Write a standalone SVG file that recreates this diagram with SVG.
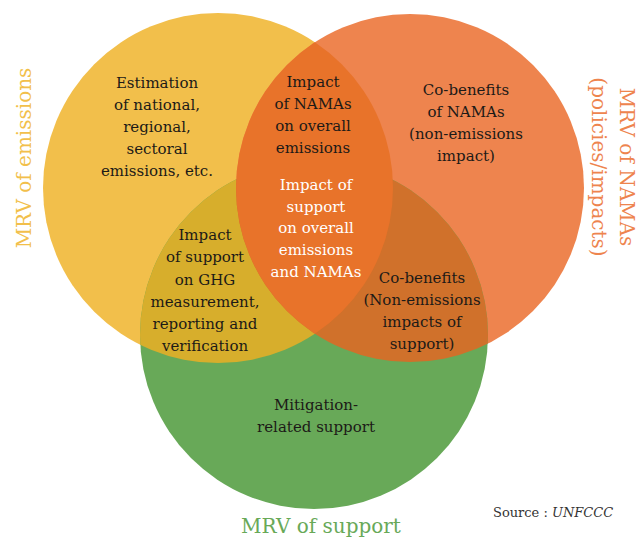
<svg xmlns="http://www.w3.org/2000/svg" width="640" height="539" viewBox="0 0 640 539">
  <style>
    .lbl { font-family: "DejaVu Serif", "Liberation Serif", serif; font-size: 15px; fill: #1c1a17; text-anchor: middle; }
    .lbl.w { fill: #ffffff; }
    .big { font-family: "DejaVu Serif", "Liberation Serif", serif; font-size: 20px; text-anchor: middle; }
    .src { font-family: "DejaVu Serif", "Liberation Serif", serif; font-size: 13px; fill: #333333; }
  </style>
  <defs>
    <circle id="cY" cx="218" cy="188" r="175"/>
    <circle id="cO" cx="410" cy="188" r="174"/>
    <circle id="cG" cx="314" cy="335" r="174"/>
    <clipPath id="clipY"><use href="#cY"/></clipPath>
    <clipPath id="clipO"><use href="#cO"/></clipPath>
  </defs>

  <rect width="640" height="539" fill="#ffffff"/>

  <!-- base circles -->
  <g id="emissions"><use href="#cY" fill="#F2BF4B"/></g>
  <g id="namas"><use href="#cO" fill="#EE844E"/></g>
  <g id="support"><use href="#cG" fill="#68A958"/></g>

  <!-- overlaps -->
  <g id="overlaps">
    <use href="#cG" fill="#D7AE2C" clip-path="url(#clipY)"/>
    <use href="#cG" fill="#D0712B" clip-path="url(#clipO)"/>
    <use href="#cO" fill="#E8732A" clip-path="url(#clipY)"/>
  </g>

  <!-- region labels -->
  <g id="estimation">
    <text class="lbl" x="157" y="88">Estimation</text>
    <text class="lbl" x="157" y="110">of national,</text>
    <text class="lbl" x="157" y="132">regional,</text>
    <text class="lbl" x="157" y="154">sectoral</text>
    <text class="lbl" x="157" y="176">emissions, etc.</text>
  </g>
  <g id="impact-namas">
    <text class="lbl" x="313" y="87">Impact</text>
    <text class="lbl" x="313" y="109">of NAMAs</text>
    <text class="lbl" x="313" y="131">on overall</text>
    <text class="lbl" x="313" y="153">emissions</text>
  </g>
  <g id="cobenefits-namas">
    <text class="lbl" x="466" y="95">Co-benefits</text>
    <text class="lbl" x="466" y="117">of NAMAs</text>
    <text class="lbl" x="466" y="139">(non-emissions</text>
    <text class="lbl" x="466" y="161">impact)</text>
  </g>
  <g id="impact-support">
    <text class="lbl w" x="316" y="190">Impact of</text>
    <text class="lbl w" x="316" y="212">support</text>
    <text class="lbl w" x="316" y="233">on overall</text>
    <text class="lbl w" x="316" y="255">emissions</text>
    <text class="lbl w" x="316" y="277">and NAMAs</text>
  </g>
  <g id="impact-mrv">
    <text class="lbl" x="205" y="240">Impact</text>
    <text class="lbl" x="205" y="262">of support</text>
    <text class="lbl" x="205" y="285">on GHG</text>
    <text class="lbl" x="205" y="307">measurement,</text>
    <text class="lbl" x="205" y="329">reporting and</text>
    <text class="lbl" x="205" y="351">verification</text>
  </g>
  <g id="cobenefits-support">
    <text class="lbl" x="422" y="283">Co-benefits</text>
    <text class="lbl" x="422" y="305">(Non-emissions</text>
    <text class="lbl" x="422" y="327">impacts of</text>
    <text class="lbl" x="422" y="349">support)</text>
  </g>
  <g id="mitigation">
    <text class="lbl" x="316" y="410">Mitigation-</text>
    <text class="lbl" x="316" y="432">related support</text>
  </g>

  <!-- set titles -->
  <g id="titles">
    <text class="big" fill="#F2BF4B" transform="translate(31,158) rotate(-90)">MRV of emissions</text>
    <text class="big" fill="#EE844E" transform="translate(620,167) rotate(90)">MRV of NAMAs</text>
    <text class="big" fill="#EE844E" transform="translate(592,167) rotate(90)">(policies/impacts)</text>
    <text class="big" fill="#68A958" x="321" y="533">MRV of support</text>
  </g>

  <text class="src" x="493" y="517">Source : <tspan font-style="italic">UNFCCC</tspan></text>
</svg>
